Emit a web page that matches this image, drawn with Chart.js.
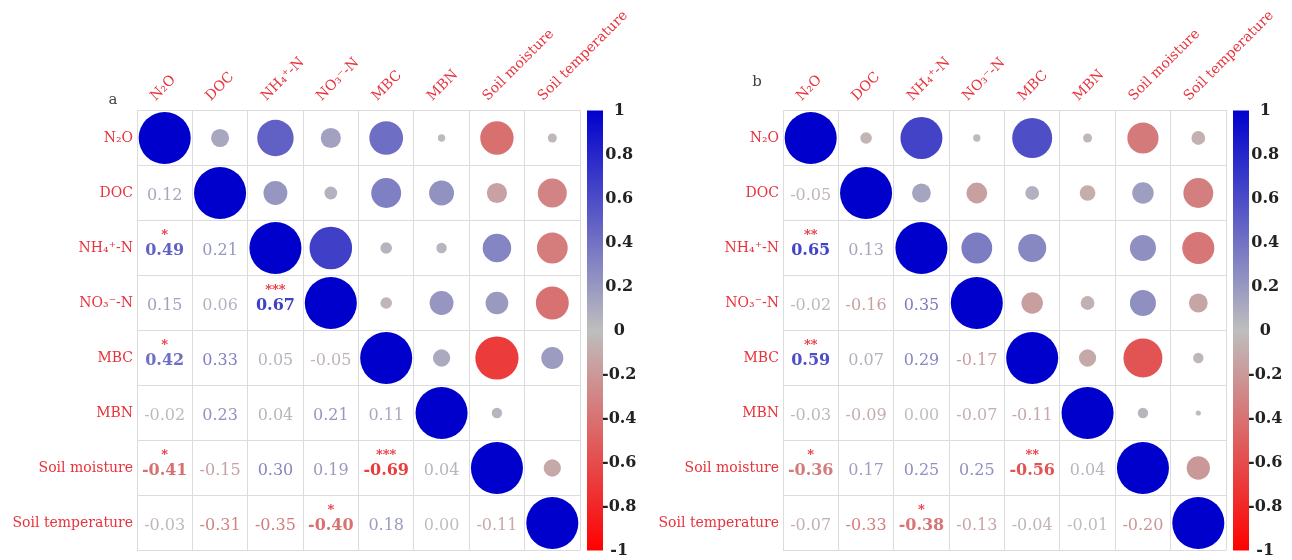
<!DOCTYPE html>
<html>
<head>
<meta charset="utf-8">
<script src="https://cdn.jsdelivr.net/npm/chart.js@4.4.1/dist/chart.umd.min.js"></script>
<style>
  html, body { margin: 0; padding: 0; background: #fff; }
  #wrap { display: flex; width: 1292px; height: 560px; }
  canvas { display: block; }
</style>
</head>
<body>
<div id="wrap">
  <canvas id="chartA" width="646" height="560"></canvas>
  <canvas id="chartB" width="646" height="560"></canvas>
</div>
<script>
const variables = ['N₂O', 'DOC', 'NH₄⁺-N', 'NO₃⁻-N', 'MBC', 'MBN', 'Soil moisture', 'Soil temperature'];

// lower triangle, row i = correlations of variable i with variables 0..i-1
const corrA = [
  [],
  [0.12],
  [0.49, 0.21],
  [0.15, 0.06, 0.67],
  [0.42, 0.33, 0.05, -0.05],
  [-0.02, 0.23, 0.04, 0.21, 0.11],
  [-0.41, -0.15, 0.30, 0.19, -0.69, 0.04],
  [-0.03, -0.31, -0.35, -0.40, 0.18, 0.00, -0.11]
];
const starsA = [
  [],
  [''],
  ['*', ''],
  ['', '', '***'],
  ['*', '', '', ''],
  ['', '', '', '', ''],
  ['*', '', '', '', '***', ''],
  ['', '', '', '*', '', '', '']
];

const corrB = [
  [],
  [-0.05],
  [0.65, 0.13],
  [-0.02, -0.16, 0.35],
  [0.59, 0.07, 0.29, -0.17],
  [-0.03, -0.09, 0.00, -0.07, -0.11],
  [-0.36, 0.17, 0.25, 0.25, -0.56, 0.04],
  [-0.07, -0.33, -0.38, -0.13, -0.04, -0.01, -0.20]
];
const starsB = [
  [],
  [''],
  ['**', ''],
  ['', '', ''],
  ['**', '', '', ''],
  ['', '', '', '', ''],
  ['*', '', '', '', '**', ''],
  ['', '', '*', '', '', '', '']
];

const cbTicks = [1, 0.8, 0.6, 0.4, 0.2, 0, -0.2, -0.4, -0.6, -0.8, -1];
const cbTickLabels = ['1', '0.8', '0.6', '0.4', '0.2', '0', '-0.2', '-0.4', '-0.6', '-0.8', '-1'];

const labelRed = '#e8323c';
const gridGrey = '#dcdcdc';
const serif = 'DejaVu Serif';

// grey at 0, blue towards +1, red towards -1
function corrColor(v) {
  const grey = [190, 190, 190], blue = [0, 0, 205], red = [255, 0, 0];
  const t = Math.min(1, Math.abs(v));
  const end = v >= 0 ? blue : red;
  const c = grey.map((g, k) => Math.round(g + (end[k] - g) * t));
  return 'rgb(' + c.join(',') + ')';
}

function circlePoints(corr) {
  const pts = [];
  variables.forEach((_, i) => {
    pts.push({ x: i, y: i, v: 1 });
    corr[i].forEach((v, j) => pts.push({ x: i, y: j, v: v }));
  });
  return pts;
}

// keep axis label overhang from shrinking the plot area
function noPad(s) {
  s.paddingTop = 0;
  s.paddingBottom = 0;
  s.paddingLeft = 0;
  s.paddingRight = 0;
}

function makeChart(id, corr, stars, letter, letterPos) {
  const cellText = {
    id: 'cellText',
    beforeDatasetsDraw(chart) {
      const { ctx } = chart;
      const cb = chart.scales.cb;
      const top = cb.getPixelForValue(1);
      const bottom = cb.getPixelForValue(-1);
      const g = ctx.createLinearGradient(0, top, 0, bottom);
      g.addColorStop(0, corrColor(1));
      g.addColorStop(0.5, corrColor(0));
      g.addColorStop(1, corrColor(-1));
      ctx.save();
      ctx.fillStyle = g;
      ctx.fillRect(cb.left + 7, top, 16, bottom - top);
      ctx.font = '15px "' + serif + '"';
      ctx.fillStyle = '#444';
      ctx.textAlign = 'center';
      ctx.textBaseline = 'middle';
      ctx.fillText(letter, letterPos[0], letterPos[1]);
      ctx.restore();
    },
    afterDatasetsDraw(chart) {
      const { ctx, scales: { x, y } } = chart;
      ctx.save();
      ctx.textAlign = 'center';
      ctx.textBaseline = 'middle';
      corr.forEach((row, i) => row.forEach((v, j) => {
        const px = x.getPixelForValue(j);
        const py = y.getPixelForValue(i);
        const sig = stars[i][j];
        ctx.font = (sig ? 'bold ' : '') + '16px "' + serif + '"';
        ctx.fillStyle = corrColor(v);
        ctx.fillText(v.toFixed(2), px, py + 3);
        if (sig) {
          ctx.font = 'bold 13px "' + serif + '"';
          ctx.fillStyle = labelRed;
          ctx.fillText(sig, px, py - 12);
        }
      }));
      ctx.restore();
    }
  };

  const idxTicks = s => { s.ticks = variables.map((_, i) => ({ value: i })); };

  return new Chart(document.getElementById(id), {
    type: 'scatter',
    data: {
      datasets: [{
        data: circlePoints(corr),
        backgroundColor: c => corrColor(c.raw.v),
        borderWidth: 0,
        pointRadius: c => {
          const s = c.chart.scales.x;
          const cell = Math.abs(s.getPixelForValue(1) - s.getPixelForValue(0));
          return 0.47 * cell * Math.sqrt(Math.abs(c.raw.v));
        }
      }]
    },
    options: {
      responsive: false,
      animation: false,
      events: [],
      layout: { padding: { top: 0, bottom: 9.5, left: 0, right: 0 } },
      plugins: { legend: { display: false }, tooltip: { enabled: false } },
      scales: {
        x: {
          type: 'linear',
          position: 'top',
          min: -0.5,
          max: 7.5,
          afterBuildTicks: idxTicks,
          afterFit: s => { s.height = 110.5; noPad(s); },
          ticks: {
            autoSkip: false,
            minRotation: 45,
            maxRotation: 45,
            padding: 6,
            color: labelRed,
            font: { family: serif, size: 14 },
            callback: v => variables[v]
          },
          grid: { offset: true, color: gridGrey, drawTicks: false },
          border: { color: gridGrey }
        },
        y: {
          type: 'linear',
          reverse: true,
          min: -0.5,
          max: 7.5,
          afterBuildTicks: idxTicks,
          afterFit: s => { s.width = 137; noPad(s); },
          ticks: {
            autoSkip: false,
            padding: 4,
            color: labelRed,
            font: { family: serif, size: 14 },
            callback: v => variables[v]
          },
          grid: { offset: true, color: gridGrey, drawTicks: false },
          border: { color: gridGrey }
        },
        cb: {
          type: 'linear',
          position: 'right',
          min: -1,
          max: 1,
          afterBuildTicks: s => { s.ticks = cbTicks.map(v => ({ value: v })); },
          afterFit: s => { s.width = 66; noPad(s); },
          ticks: {
            crossAlign: 'center',
            padding: 22,
            color: '#222',
            font: { family: serif, size: 16, weight: 'bold' },
            callback: v => cbTickLabels[cbTicks.indexOf(v)]
          },
          grid: { display: false, drawTicks: false },
          border: { display: false }
        }
      }
    },
    plugins: [cellText]
  });
}

makeChart('chartA', corrA, starsA, 'a', [113, 100]);
makeChart('chartB', corrB, starsB, 'b', [111, 82]);
</script>
</body>
</html>
